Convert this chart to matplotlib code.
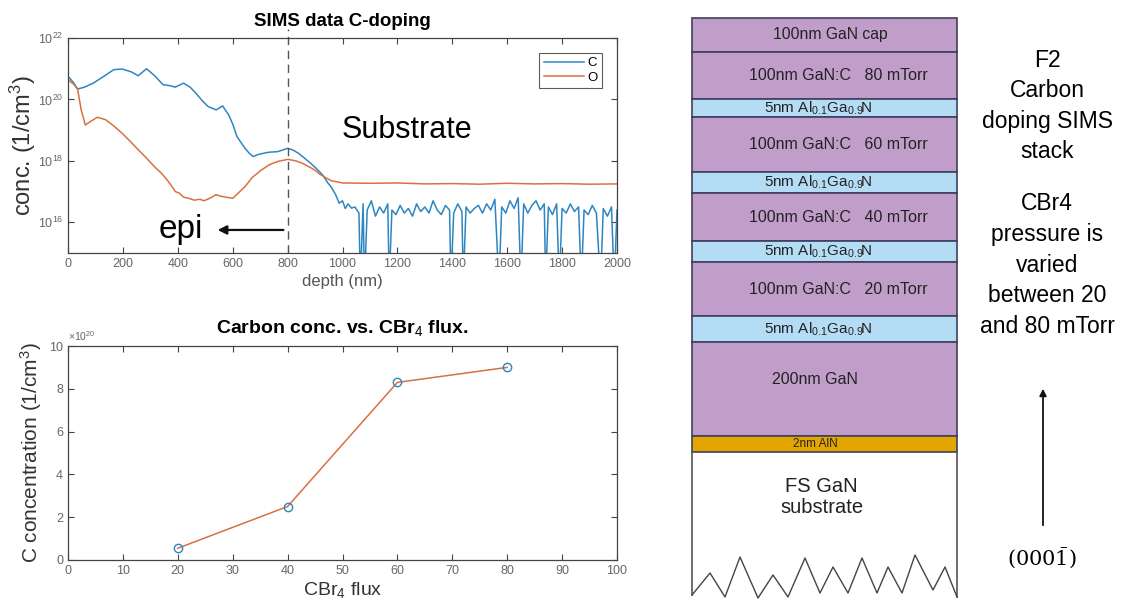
import matplotlib
matplotlib.use("Agg")
import numpy as np
from matplotlib import pyplot as plt
from matplotlib.patches import Rectangle
from matplotlib.ticker import FixedLocator, FuncFormatter

plt.rcParams['font.family'] = ['Liberation Sans', 'DejaVu Sans']
plt.rcParams['mathtext.fontset'] = 'custom'
plt.rcParams['mathtext.rm'] = 'Liberation Sans'
plt.rcParams['mathtext.it'] = 'Liberation Sans:italic'
plt.rcParams['mathtext.bf'] = 'Liberation Sans:bold'

# SIMS depth profile, carbon (log10 of conc.)
c_depth = [0, 20, 35, 60, 92, 130, 167, 197, 230, 256, 286, 316, 346, 370, 391, 421, 445, 466,
           490, 510, 540, 563, 585, 600, 615, 630, 645, 660, 675, 690, 704, 730, 764, 801, 820,
           839, 860, 884, 905, 928, 945, 958, 975, 988, 1000, 1010, 1020, 1033,
           1045, 1060, 1065, 1075, 1080, 1090, 1105, 1120, 1135, 1150, 1165, 1170, 1180, 1195,
           1210, 1225, 1240, 1255, 1270, 1285, 1300, 1315, 1330, 1345, 1360, 1375, 1390, 1395,
           1405, 1420, 1435, 1440, 1450, 1465, 1480, 1495, 1510, 1525, 1540, 1555, 1570, 1580,
           1595, 1610, 1625, 1640, 1650, 1660, 1675, 1690, 1705, 1720, 1735, 1740, 1750, 1765,
           1780, 1790, 1800, 1815, 1830, 1845, 1860, 1870, 1880, 1895, 1910, 1925, 1940, 1950,
           1965, 1980, 1990, 2000]
c_log = [20.75, 20.55, 20.34, 20.4, 20.53, 20.75, 20.97, 20.99, 20.9, 20.77, 21.0, 20.77, 20.48,
         20.45, 20.4, 20.53, 20.4, 20.2, 19.95, 19.77, 19.66, 19.79, 19.5, 19.2, 18.8, 18.6,
         18.41, 18.25, 18.14, 18.2, 18.23, 18.28, 18.3, 18.41, 18.35, 18.25, 18.1, 17.92, 17.75,
         17.54, 17.3, 17.16, 16.9, 16.62, 16.7, 16.45, 16.6, 16.46,
         16.5, 16.3, 14.0, 16.6, 14.0, 16.4, 16.7, 16.2, 16.5, 16.3, 16.6, 14.0, 16.4, 16.25,
         16.55, 16.3, 16.45, 16.2, 16.6, 16.35, 16.5, 16.3, 16.7, 16.4, 16.25, 16.55, 16.4, 14.0,
         16.3, 16.6, 16.35, 14.0, 16.5, 16.3, 16.45, 16.55, 16.3, 16.6, 16.4, 16.75, 14.0, 16.5,
         16.3, 16.7, 16.45, 16.8, 14.0, 16.6, 16.3, 16.55, 16.7, 16.4, 16.6, 14.0, 16.5, 16.25,
         16.6, 14.0, 16.45, 16.3, 16.6, 16.35, 16.5, 14.0, 16.4, 16.25, 16.55, 16.3, 14.0, 16.45,
         16.2, 16.5, 14.0, 16.4]

# oxygen
o_depth = [0, 20, 35, 48, 63, 85, 107, 137, 165, 197, 225, 256, 285, 316, 340, 361, 380, 391,
           405, 421, 440, 460, 480, 496, 520, 540, 555, 575, 600, 620, 645, 670, 704, 735, 764,
           801, 830, 854, 876, 899, 920, 943, 960, 973, 1000, 1100, 1200, 1300, 1400, 1500,
           1600, 1700, 1800, 1900, 2000]
o_log = [20.64, 20.5, 20.34, 19.66, 19.17, 19.3, 19.42, 19.34, 19.15, 18.9, 18.65, 18.36, 18.1,
         17.8, 17.6, 17.38, 17.15, 17.0, 16.95, 16.82, 16.78, 16.72, 16.75, 16.7, 16.8, 16.9,
         16.85, 16.82, 16.78, 16.95, 17.16, 17.45, 17.7, 17.88, 17.98, 18.05, 18.0, 17.92, 17.82,
         17.7, 17.55, 17.43, 17.35, 17.33, 17.28, 17.27, 17.28, 17.25, 17.26, 17.24, 17.27,
         17.25, 17.26, 17.24, 17.25]

# carbon conc. vs CBr4 flux
flux = [20, 40, 60, 80]
c_conc = [0.55e20, 2.5e20, 8.3e20, 9.0e20]

# layer stack, top to bottom (drawing heights in px)
algan = "5nm Al$_{0.1}$Ga$_{0.9}\\!$N"
layer_labels = ["100nm GaN cap", "100nm GaN:C   80 mTorr", algan,
                "100nm GaN:C   60 mTorr", algan, "100nm GaN:C   40 mTorr",
                algan, "100nm GaN:C   20 mTorr", algan,
                "200nm GaN", "2nm AlN", "FS GaN\nsubstrate"]
layer_h = [34, 47, 18, 55, 21, 48, 21, 54, 26, 94, 16, 143]
layer_kind = ["cap", "ganc", "algan", "ganc", "algan", "ganc", "algan", "ganc", "algan",
              "gan", "aln", "sub"]

# zigzag at the bottom of the substrate
zig_x = [692, 710, 725, 740, 758, 773, 788, 805, 820, 833, 848, 862, 877, 888, 902, 915, 933, 945, 957]
zig_y = [595, 573, 597, 557, 598, 575, 597, 558, 593, 567, 593, 558, 593, 567, 593, 555, 590, 567, 597]

blue = "#2E86C1"
orange = "#D9713F"
tick_col = "#666666"

fig = plt.figure(figsize=(11.25, 6.14), dpi=100)

# ---- stack diagram (figure pixel coordinates) ----
axd = fig.add_axes([0, 0, 1, 1])
axd.set_xlim(0, 1125)
axd.set_ylim(614, 0)
axd.axis("off")

colors = {"cap": "#C19DC9", "gan": "#C19DC9", "ganc": "#C19DC9", "algan": "#B5DCF5",
          "aln": "#E3A600", "sub": "white"}
font_sz = {"cap": 11.3, "gan": 11.5, "ganc": 11.5, "algan": 11, "aln": 8.5}
x_off = {"cap": 6, "gan": -10, "ganc": 14, "algan": -6, "aln": -9}
x0, x1 = 692, 957
y = 18
for lab, h, kind in zip(layer_labels, layer_h, layer_kind):
    if kind == "sub":
        axd.plot([x0, x0], [y, zig_y[0]], color="#555555", lw=1.2)
        axd.plot([x1, x1], [y, zig_y[-1]], color="#555555", lw=1.2)
        axd.text((x0 + x1) / 2 - 3, y + 45, lab, ha="center", va="center", fontsize=14.5,
                 linespacing=1.1, color="#222222")
    else:
        axd.add_patch(Rectangle((x0, y), x1 - x0, h, facecolor=colors[kind],
                                edgecolor="#3F3F5F", lw=1.2))
        yc = y + 38 if kind == "gan" else y + h / 2
        axd.text((x0 + x1) / 2 + x_off[kind], yc, lab, ha="center", va="center",
                 fontsize=font_sz[kind], color="#222222")
    y += h
axd.plot(zig_x, zig_y, color="#444444", lw=1.0)

axd.text(1047, 106, "F2\nCarbon\ndoping SIMS\nstack", ha="center", va="center", fontsize=16.5,
         linespacing=1.42)
axd.text(1047, 265, "CBr4\npressure is\nvaried\nbetween 20\nand 80 mTorr", ha="center",
         va="center", fontsize=16.5, linespacing=1.42)
axd.annotate("", xy=(1043, 386), xytext=(1043, 528),
             arrowprops=dict(arrowstyle="-|>", color="#111111", lw=1.3, mutation_scale=10))
axd.text(1042, 558, r"$(000\bar{1})$", ha="center", va="center", fontsize=15,
         math_fontfamily="dejavuserif")

# ---- SIMS profile ----
ax1 = fig.add_axes([68 / 1125, 1 - 253 / 614, 549 / 1125, 215 / 614])
ax1.semilogy(c_depth, 10 ** np.array(c_log), color=blue, lw=1.1, label="C")
ax1.semilogy(o_depth, 10 ** np.array(o_log), color=orange, lw=1.1, label="O")
ax1.set_xlim(0, 2000)
ax1.set_ylim(1e15, 1e22)
ax1.set_xticks(range(0, 2001, 200))
ax1.yaxis.set_major_locator(FixedLocator([1e16, 1e18, 1e20, 1e22]))
ax1.yaxis.set_minor_locator(FixedLocator([]))
ax1.set_yticklabels([r"$10^{16}$", r"$10^{18}$", r"$10^{20}$", r"$10^{22}$"])
ax1.plot([800, 800], [1e15, 10 ** 22.3], color="#555555", ls=(0, (6, 4)), lw=1.0, clip_on=False)
ax1.set_title("SIMS data C-doping", fontsize=13.5, fontweight="bold", pad=9)
ax1.set_xlabel("depth (nm)", fontsize=12, color="#555555", labelpad=3)
ax1.set_ylabel("conc. (1/cm$^3$)", fontsize=17, color="#333333", labelpad=0)
ax1.text(995, 1e19, "Substrate", fontsize=22, va="center")
ax1.text(330, 10 ** 15.75, "epi", fontsize=24, va="center")
ax1.annotate("", xy=(535, 10 ** 15.75), xytext=(795, 10 ** 15.75),
             arrowprops=dict(arrowstyle="-|>", color="#111111", lw=1.6, mutation_scale=13))
leg = ax1.legend(loc="upper right", fontsize=9.5, fancybox=False, edgecolor="#333333",
                 handlelength=3.0, borderaxespad=1.1, handletextpad=0.3, borderpad=0.35,
                 labelspacing=0.15)
leg.get_frame().set_linewidth(0.8)

# ---- carbon vs flux ----
ax2 = fig.add_axes([68 / 1125, 1 - 560 / 614, 549 / 1125, 214 / 614])
ax2.plot(flux, c_conc, color=orange, lw=1.1)
ax2.plot(flux, c_conc, ls="none", marker="o", ms=6, mfc="none", mec=blue, mew=1.0)
ax2.set_xlim(0, 100)
ax2.set_ylim(0, 10e20)
ax2.set_xticks(range(0, 101, 10))
ax2.set_yticks([0, 2e20, 4e20, 6e20, 8e20, 10e20])
ax2.yaxis.set_major_formatter(FuncFormatter(lambda v, p: f"{v / 1e20:g}"))
ax2.text(0, 1.015, r"$\times10^{20}$", transform=ax2.transAxes, fontsize=7.5, color=tick_col,
         va="bottom", ha="left")
ax2.set_title("Carbon conc. vs. CBr$_4$ flux.", fontsize=14, fontweight="bold", pad=9)
ax2.set_xlabel("CBr$_4$ flux", fontsize=14, color="#333333", labelpad=2)
ax2.set_ylabel("C concentration (1/cm$^3$)", fontsize=15, color="#333333", labelpad=4)

for ax in (ax1, ax2):
    ax.tick_params(direction="in", top=True, right=True, length=4, width=0.8,
                   labelsize=9, labelcolor=tick_col, color="#444444")
    for s in ax.spines.values():
        s.set_color("#444444")
        s.set_linewidth(0.9)

fig.savefig("out.png", dpi=100)
